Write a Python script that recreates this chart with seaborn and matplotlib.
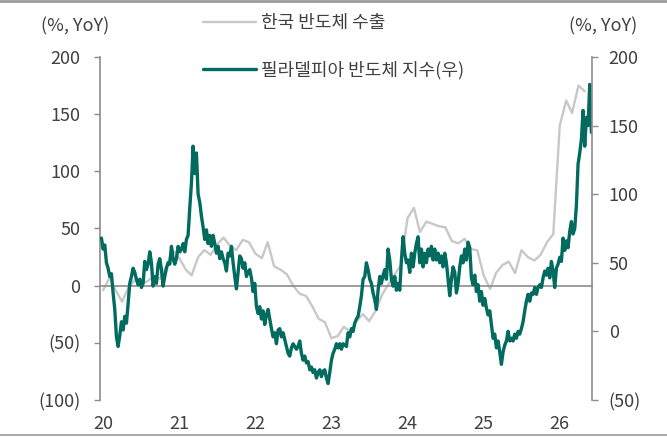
import numpy as np
import pandas as pd
import seaborn as sns
import matplotlib.pyplot as plt
import matplotlib.dates as mdates
from matplotlib.lines import Line2D
from matplotlib.ticker import FuncFormatter

# 한국 반도체 수출 (%, YoY), monthly from Jan 2020
export_start = '2020-01-01'
export_yoy = [-4, 7, -4, -14, -2, 5, 1, 4, 8, 6, 18, 31,
              24, 14, 9, 25, 31, 27, 36, 42, 35, 31, 40, 38,
              28, 24, 38, 17, 14, 10, 0, -7, -9, -18, -29, -32,
              -46, -44, -36, -40, -31, -25, -31, -22, -8, 1, 10, 18,
              59, 68, 47, 56, 54, 52, 51, 39, 37, 41, 32, 31,
              9, -3, 11, 18, 21, 11, 31, 25, 22, 27, 38, 45,
              140, 162, 151, 175, 170]

# 필라델피아 반도체 지수 (%, YoY), sampled every 8 days
sox_start = '2019-12-24'
sox_step = '8D'
sox_yoy = [68, 60, 63, 50, 46, 40, 42, 28, 16, -4,
           -11, -3, 7, 1, 11, 6, 20, 35, 40, 46,
           43, 38, 34, 38, 32, 35, 51, 45, 49, 58,
           50, 33, 40, 35, 49, 53, 45, 33, 40, 46,
           50, 49, 62, 53, 49, 53, 62, 58, 60, 64,
           58, 67, 70, 90, 108, 135, 115, 130, 100, 94,
           84, 76, 67, 74, 64, 70, 62, 70, 64, 57,
           62, 53, 58, 53, 50, 44, 57, 55, 62, 50,
           40, 31, 43, 55, 53, 46, 50, 40, 43, 45,
           39, 29, 35, 18, 13, 18, 9, 15, 5, 12,
           16, 9, 2, -4, -1, -9, 1, 2, -4, -1,
           -6, -11, -16, -18, -12, -9, -11, -13, -11, -7,
           -16, -21, -18, -23, -22, -28, -26, -30, -28, -34,
           -30, -28, -33, -29, -28, -34, -38, -30, -21, -16,
           -13, -9, -12, -9, -13, -9, -10, -11, -1, -4,
           2, 0, 6, 9, 11, 18, 26, 38, 40, 50,
           45, 38, 35, 28, 23, 16, 30, 40, 35, 41,
           45, 38, 60, 52, 38, 33, 40, 30, 35, 30,
           52, 69, 57, 50, 52, 43, 57, 47, 57, 64,
           69, 50, 60, 47, 57, 50, 60, 55, 62, 52,
           60, 52, 57, 50, 55, 47, 57, 50, 38, 26,
           38, 47, 43, 28, 35, 47, 55, 50, 60, 52,
           65, 61, 39, 34, 41, 29, 34, 22, 29, 19,
           24, 17, 12, 15, 5, -5, -2, -12, -7, -15,
           -24, -15, -10, -7, 0, -7, -5, -7, -2, -5,
           0, -2, 2, 7, 15, 22, 27, 22, 28, 27,
           32, 27, 32, 34, 32, 39, 44, 41, 46, 39,
           51, 44, 32, 46, 49, 54, 51, 68, 59, 66,
           61, 73, 80, 71, 75, 92, 122, 130, 140, 161,
           135, 156, 150, 180, 145]

left_ticks = [-100, -50, 0, 50, 100, 150, 200]
right_ticks = [-50, 0, 50, 100, 150, 200]

sns.set_style('white')
plt.rcParams['font.family'] = ['Noto Sans CJK KR', 'DejaVu Sans']
plt.rcParams['font.weight'] = 'light'
plt.rcParams['axes.unicode_minus'] = False

text_color = '#404040'
axis_color = '#8c8c8c'

exports = pd.DataFrame({'date': pd.date_range(export_start, periods=len(export_yoy), freq='MS'),
                        'yoy': export_yoy})
sox = pd.DataFrame({'date': pd.date_range(sox_start, periods=len(sox_yoy), freq=sox_step),
                    'yoy': sox_yoy})

fig = plt.figure(figsize=(6.67, 4.37), dpi=100)
ax = fig.add_axes([0.1499, 0.0847, 0.7377, 0.7849])
ax2 = ax.twinx()

sns.lineplot(data=exports, x='date', y='yoy', ax=ax, color='#c8c8c8', linewidth=1.7,
             label='한국 반도체 수출', legend=False)
sns.lineplot(data=sox, x='date', y='yoy', ax=ax2, color='#006b5e', linewidth=2.4,
             label='필라델피아 반도체 지수(우)', legend=False)

paren = FuncFormatter(lambda v, p: f'({abs(int(v))})' if v < 0 else f'{int(v)}')

ax.set_ylim(-100, 200)
ax.set_yticks(left_ticks)
ax.yaxis.set_major_formatter(paren)
ax2.set_ylim(-50, 200)
ax2.set_yticks(right_ticks)
ax2.yaxis.set_major_formatter(paren)

ax.set_xlim(pd.Timestamp('2019-12-17'), pd.Timestamp('2026-06-05'))
ax.xaxis.set_major_locator(mdates.YearLocator())
ax.xaxis.set_major_formatter(mdates.DateFormatter('%y'))

for a in (ax, ax2):
    a.set_xlabel('')
    a.set_ylabel('')
    for s in a.spines.values():
        s.set_visible(False)
        s.set_color(axis_color)
        s.set_linewidth(1.2)

ax.spines['left'].set_visible(True)
ax.spines['bottom'].set_visible(True)
ax.spines['bottom'].set_position(('data', 0))
ax2.spines['right'].set_visible(True)

ax.tick_params(axis='y', direction='out', length=4, width=1, color=axis_color,
               pad=10, labelsize=13, labelcolor=text_color)
ax2.tick_params(axis='y', direction='out', length=4, width=1, color=axis_color,
                pad=8, labelsize=13, labelcolor=text_color)
ax.tick_params(axis='x', direction='out', length=4, width=1, color=axis_color,
               pad=89, labelsize=13, labelcolor=text_color)

fig.text(0.112, 0.94, '(%, YoY)', ha='center', va='center', fontsize=13, color=text_color)
fig.text(0.904, 0.94, '(%, YoY)', ha='center', va='center', fontsize=13, color=text_color)

h1, l1 = ax.get_legend_handles_labels()
h2, l2 = ax2.get_legend_handles_labels()
fig.legend(h1 + h2, l1 + l2, loc='upper left', bbox_to_anchor=(0.305, 0.968),
           frameon=False, fontsize=13, labelcolor=text_color, handlelength=2.9,
           handletextpad=0.3, labelspacing=1.6, borderpad=0, borderaxespad=0)

fig.add_artist(Line2D([0, 1], [0.997, 0.997], transform=fig.transFigure, color='#9a9a9a', lw=2))
fig.add_artist(Line2D([0, 1], [0.004, 0.004], transform=fig.transFigure, color='#9a9a9a', lw=1.2))

fig.savefig('out.png', dpi=100)
